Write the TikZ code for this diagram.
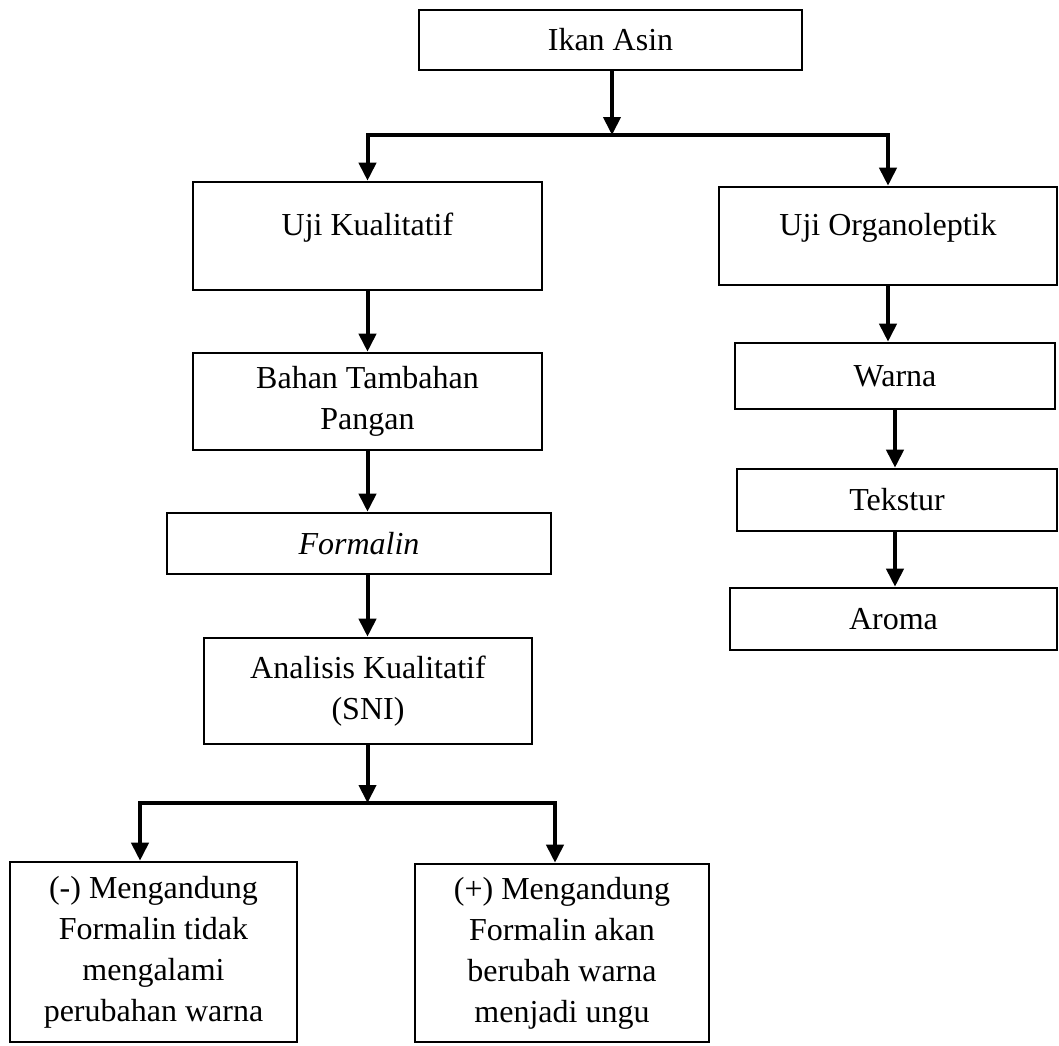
\documentclass[tikz,border=0pt]{standalone}
\usepackage{fontspec}
\setmainfont{Liberation Serif}
\usetikzlibrary{arrows.meta}
\begin{document}
\begin{tikzpicture}[x=1pt,y=-1pt,
  box/.style={draw, line width=2.6pt, inner sep=0pt, align=center, font=\fontsize{32}{41}\selectfont},
  conn/.style={line width=4pt},
  arr/.style={line width=4pt, -{Triangle[length=18pt,width=17pt]}}]
\useasboundingbox (0,0) rectangle (1059,1045);
\node[box, minimum width=383pt, minimum height=60pt] (ikan) at (610.5,40) {Ikan Asin};
\node[box, minimum width=349pt, text height=53pt, text depth=55pt, anchor=base] (ujik) at (367.5,235) {Uji Kualitatif};
\node[box, minimum width=338pt, text height=48pt, text depth=50pt, anchor=base] (ujorg) at (888,235) {Uji Organoleptik};
\node[box, minimum width=349pt, minimum height=97pt] (bahan) at (367.5,401.5) {Bahan Tambahan\\Pangan};
\node[box, minimum width=384pt, minimum height=61pt] (formalin) at (359,543.5) {\textit{Formalin}};
\node[box, minimum width=328pt, minimum height=106pt] (analisis) at (368,691) {Analisis Kualitatif\\(SNI)};
\node[box, minimum width=320pt, minimum height=66pt] (warna) at (895,376) {Warna};
\node[box, minimum width=320pt, minimum height=62pt] (tekstur) at (897,500) {Tekstur};
\node[box, minimum width=327pt, minimum height=62pt] (aroma) at (893.5,619) {Aroma};
\node[box, minimum width=287pt, minimum height=180pt] (neg) at (153.5,952) {(-) Mengandung\\Formalin tidak\\mengalami\\perubahan warna};
\node[box, minimum width=294pt, minimum height=178pt] (pos) at (562,953) {(+) Mengandung\\Formalin akan\\berubah warna\\menjadi ungu};
% top split
\coordinate (s1) at (612,135);
\draw[arr] (ikan.south -| s1) -- (s1);
\draw[conn, line cap=rect] (ujik.north |- s1) -- (ujorg.north |- s1);
\draw[arr] (ujik.north |- s1) -- (ujik.north);
\draw[arr] (ujorg.north |- s1) -- (ujorg.north);
% left column
\draw[arr] (ujik.south) -- (ujik.south |- bahan.north);
\draw[arr] (bahan.south) -- (bahan.south |- formalin.north);
\draw[arr] (bahan.south |- formalin.south) -- (bahan.south |- analisis.north);
\coordinate (s2) at (367.5,803);
\coordinate (bl) at (140,803);
\coordinate (br) at (555,803);
\draw[arr] (bahan.south |- analisis.south) -- (s2);
\draw[conn, line cap=rect] (bl) -- (br);
\draw[arr] (bl) -- (bl |- neg.north);
\draw[arr] (br) -- (br |- pos.north);
% right column
\draw[arr] (ujorg.south) -- (ujorg.south |- warna.north);
\draw[arr] (warna.south) -- (warna.south |- tekstur.north);
\draw[arr] (warna.south |- tekstur.south) -- (warna.south |- aroma.north);
\end{tikzpicture}
\end{document}
